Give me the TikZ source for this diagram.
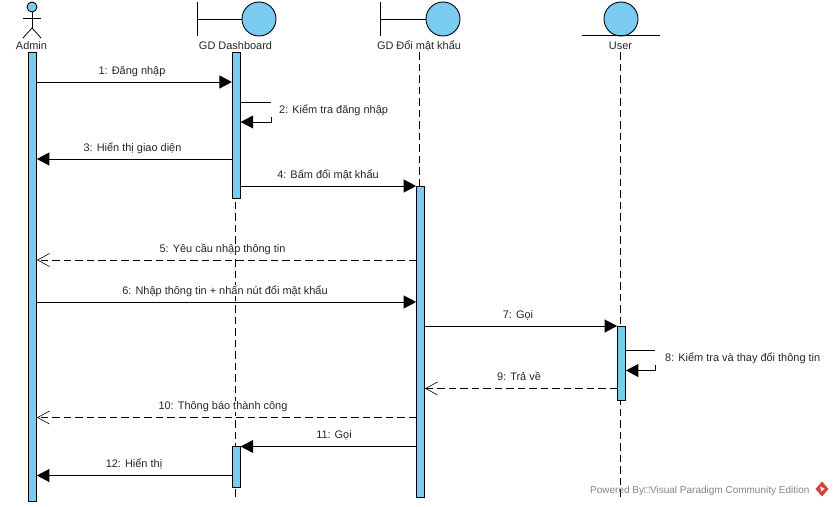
\documentclass[tikz,border=0pt]{standalone}
\usepackage{fontspec}
\setmainfont{Liberation Sans}
\usetikzlibrary{arrows.meta,calc}
\definecolor{vpblue}{HTML}{7ACBF0}
\definecolor{vpred}{HTML}{D8413A}
\tikzset{
  x=1pt,y=-1pt,
  txt/.style={font=\fontsize{10.95}{12}\selectfont,inner sep=0pt,text=black!85,anchor=base},
  msgtext/.style={txt,fill=white,inner xsep=1pt},
  bar/.style={draw=black,fill=vpblue,line width=0.8pt,minimum width=8pt,inner sep=0pt,anchor=north},
  lifeline/.style={line width=0.9pt,dash pattern=on 7.5pt off 4pt},
  shapeline/.style={draw=black,line width=1pt},
  headcircle/.style={circle,draw=black,fill=vpblue,line width=0.9pt,minimum size=34pt,inner sep=0pt},
  call/.style={line width=0.9pt,-{Triangle[length=12.5pt,width=13pt]}},
  ret/.style={line width=0.9pt,dash pattern=on 7.5pt off 4pt,-{Straight Barb[length=12pt,width=13pt,line width=0.6pt]}},
}
\begin{document}
\begin{tikzpicture}
\useasboundingbox (0,0) rectangle (834,506);
\fill[white] (0,0) rectangle (834,506);

% heads
\node[circle,draw=black,fill=vpblue,line width=0.9pt,minimum size=10pt,inner sep=0pt] (adminhead) at (32,7) {};
\coordinate (adminhip) at (32,28);
\draw[shapeline,line width=0.8pt] (adminhead) -- (adminhip);
\coordinate (adminarml) at (23,18);
\coordinate (adminarmr) at (41,18);
\coordinate (adminlegl) at (23,38);
\coordinate (adminlegr) at (41,38);
\draw[shapeline,line width=0.8pt] (adminarml) -- (adminarmr);
\draw[shapeline,line width=0.8pt] (adminlegl) -- (adminhip) -- (adminlegr);
\node[txt] (adminlabel) at (31.5,49) {Admin};

\node[headcircle] (dashcircle) at (259,19) {};
\coordinate (dashtop) at (197,2);
\coordinate (dashbot) at (197,36);
\coordinate (dashmid) at (197,19);
\draw[shapeline] (dashtop) -- (dashbot);
\draw[shapeline] (dashmid) -- (dashcircle);
\node[txt] (dashlabel) at (235.5,49) {GD Dashboard};

\node[headcircle] (pwcircle) at (443,19) {};
\coordinate (pwtop) at (380.5,2);
\coordinate (pwbot) at (380.5,36);
\coordinate (pwmid) at (380.5,19);
\draw[shapeline] (pwtop) -- (pwbot);
\draw[shapeline] (pwmid) -- (pwcircle);
\node[txt] (pwlabel) at (419,49) {GD Đổi mật khẩu};

\node[headcircle] (usercircle) at (621,19) {};
\coordinate (userl) at (582,35.5);
\coordinate (userr) at (660,35.5);
\draw[shapeline] (userl) -- (userr);
\node[txt] (userlabel) at (620.5,49) {User};

% lifelines
\coordinate (dashend) at (235.5,500);
\coordinate (pwend) at (419.5,500);
\coordinate (userend) at (620.5,500);
\draw[lifeline] (235.5,52) -- (dashend);
\draw[lifeline] (419.5,52) -- (pwend);
\draw[lifeline] (620.5,52) -- (userend);

% activation bars
\node[bar,minimum height=449pt] (adminbar) at (32.5,52) {};
\node[bar,minimum height=146pt] (dashbar) at (236.3,52) {};
\node[bar,minimum height=41pt] (dashbarb) at (236.3,446) {};
\node[bar,minimum height=311pt] (pwbar) at (420.5,186) {};
\node[bar,minimum height=74pt] (userbar) at (621.5,326) {};

% messages
\draw[call] (adminbar.east |- 0,82) -- (dashbar.west |- 0,82);
\node[txt] (m1) at (132,74.3) {1: Đăng nhập};

\coordinate (s2a) at (271,102);
\coordinate (s2b) at (271,117);
\coordinate (s2c) at (271,122);
\draw[line width=0.9pt] (dashbar.east |- s2a) -- (s2a);
\draw[call] (s2b) -- (s2c) -- (dashbar.east |- s2c);
\node[txt,anchor=base west] (m2) at (279,113.5) {2: Kiểm tra đăng nhập};

\draw[call] (dashbar.west |- 0,159) -- (adminbar.east |- 0,159);
\node[txt] (m3) at (132.5,151) {3: Hiển thị giao diện};

\draw[call] (dashbar.east |- 0,186) -- (pwbar.west |- 0,186);
\node[txt] (m4) at (328,178.2) {4: Bấm đổi mật khẩu};

\draw[ret] (pwbar.west |- 0,260) -- (adminbar.east |- 0,260);
\node[msgtext] (m5) at (222.5,252.2) {5: Yêu cầu nhập thông tin};

\draw[call] (adminbar.east |- 0,302) -- (pwbar.west |- 0,302);
\node[msgtext] (m6) at (225,294) {6: Nhập thông tin + nhấn nút đổi mật khẩu};

\draw[call] (pwbar.east |- 0,326) -- (userbar.west |- 0,326);
\node[txt] (m7) at (518,318) {7: Gọi};

\coordinate (s8a) at (655,350.5);
\coordinate (s8b) at (655,365);
\coordinate (s8c) at (655,370.5);
\draw[line width=0.9pt] (userbar.east |- s8a) -- (s8a);
\draw[call] (s8b) -- (s8c) -- (userbar.east |- s8c);
\node[txt,anchor=base west] (m8) at (665,361.7) {8: Kiểm tra và thay đổi thông tin};

\draw[ret] (userbar.west |- 0,388.5) -- (pwbar.east |- 0,388.5);
\node[txt] (m9) at (519,380.5) {9: Trả về};

\draw[ret] (pwbar.west |- 0,417.5) -- (adminbar.east |- 0,417.5);
\node[msgtext] (m10) at (223,409.5) {10: Thông báo thành công};

\draw[call] (pwbar.west |- 0,446.5) -- (dashbarb.east |- 0,446.5);
\node[txt] (m11) at (334,438) {11: Gọi};

\draw[call] (dashbarb.west |- 0,475.5) -- (adminbar.east |- 0,475.5);
\node[txt] (m12) at (134,467.5) {12: Hiển thị};

% watermark
\node[font=\fontsize{10}{12}\selectfont,text=black!48,inner sep=0pt,anchor=base west] (wm) at (590,493.3) {Powered By□Visual Paradigm Community Edition};
\fill[vpred] (822,481.5) -- (828.5,489) -- (822,496.5) -- (815.5,489) -- cycle;
\fill[white] (820,486.5) -- (824.5,488.5) -- (821.5,491.5) -- cycle;
\end{tikzpicture}
\end{document}
